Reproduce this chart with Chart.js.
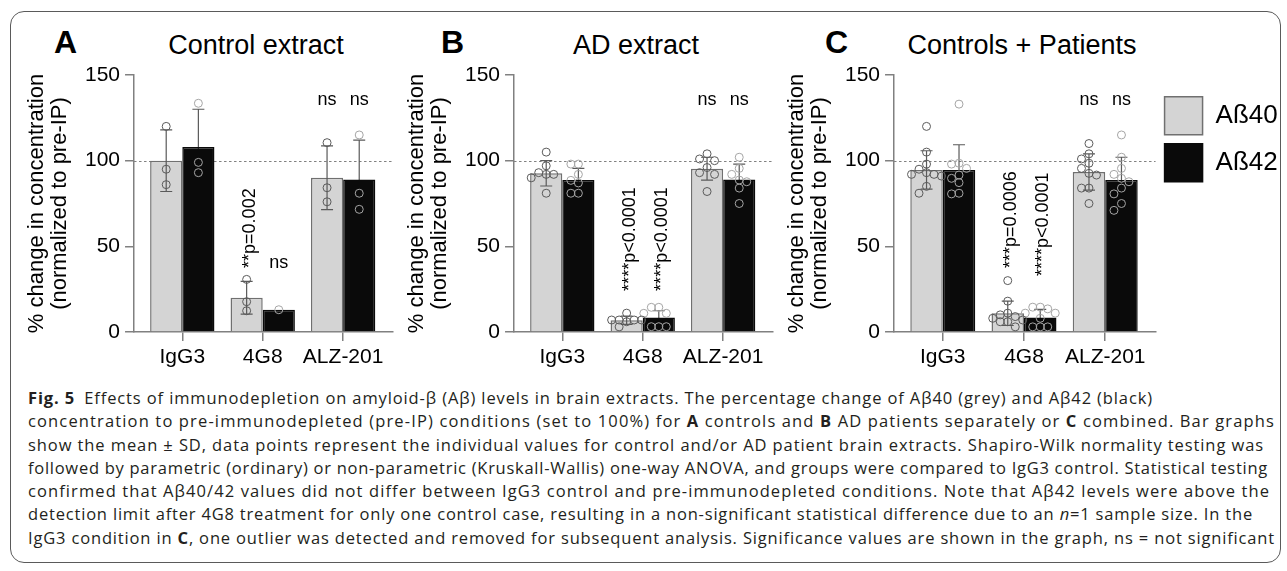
<!DOCTYPE html>
<html>
<head>
<meta charset="utf-8">
<script src="https://cdn.jsdelivr.net/npm/chart.js@4.4.1/dist/chart.umd.min.js"></script>
<style>
html,body{margin:0;padding:0;background:#fff;}
body{width:1287px;height:571px;position:relative;overflow:hidden;font-family:"Liberation Sans",Arial,sans-serif;color:#000;}
.frame{position:absolute;left:10px;top:11px;width:1271px;height:552px;border:1.5px solid #5a5a5a;border-radius:14px;box-sizing:border-box;}
canvas{position:absolute;}
.letter{position:absolute;font-weight:bold;font-size:32px;line-height:32px;white-space:nowrap;}
.ptitle{position:absolute;font-size:27px;line-height:27px;width:400px;text-align:center;white-space:nowrap;}
.caption{position:absolute;left:28px;top:386px;font-family:"Open Sans","Noto Sans",sans-serif;font-size:16.5px;line-height:23.3px;color:#231f20;}
.caption div{white-space:nowrap;}
</style>
</head>
<body>
<div class="frame"></div>

<div class="letter" style="left:54px;top:26px;">A</div>
<div class="ptitle" style="left:56px;top:32px;">Control extract</div>
<div class="letter" style="left:441px;top:26px;">B</div>
<div class="ptitle" style="left:436px;top:32px;">AD extract</div>
<div class="letter" style="left:825px;top:26px;">C</div>
<div class="ptitle" style="left:822px;top:32px;">Controls + Patients</div>

<canvas id="chartA" width="386" height="366" style="left:14px;top:14px;"></canvas>
<canvas id="chartB" width="386" height="366" style="left:394px;top:14px;"></canvas>
<canvas id="chartC" width="505" height="366" style="left:774px;top:14px;"></canvas>

<div class="caption" id="caption">
<div><b>Fig. 5</b>&#8194;Effects of immunodepletion on amyloid-β (Aβ) levels in brain extracts. The percentage change of Aβ40 (grey) and Aβ42 (black)</div>
<div>concentration to pre-immunodepleted (pre-IP) conditions (set to 100%) for <b>A</b> controls and <b>B</b> AD patients separately or <b>C</b> combined. Bar graphs</div>
<div>show the mean ± SD, data points represent the individual values for control and/or AD patient brain extracts. Shapiro-Wilk normality testing was</div>
<div>followed by parametric (ordinary) or non-parametric (Kruskall-Wallis) one-way ANOVA, and groups were compared to IgG3 control. Statistical testing</div>
<div>confirmed that Aβ40/42 values did not differ between IgG3 control and pre-immunodepleted conditions. Note that Aβ42 levels were above the</div>
<div>detection limit after 4G8 treatment for only one control case, resulting in a non-significant statistical difference due to an <i>n</i>=1 sample size. In the</div>
<div>IgG3 condition in <b>C</b>, one outlier was detected and removed for subsequent analysis. Significance values are shown in the graph, ns = not significant</div>
</div>

<script>
// ---------------- DATA ----------------
const categories = ['IgG3', '4G8', 'ALZ-201'];
const seriesNames = ['Aß40', 'Aß42'];
const yTicks = [0, 50, 100, 150];

// Panel A: Control extract
const ctrlMean40 = [100, 20, 90];
const ctrlMean42 = [108, 13, 89];
const ctrlSD40 = [18, 9.6, 18.6];
const ctrlSD42 = [22, 0, 23];
const ctrlPts40 = [[120, 95, 86], [30.7, 17.7, 12.4], [110.5, 84.2, 76]];
const ctrlPts42 = [[133.5, 99, 93], [13], [115, 81, 71.6]];
const ctrlSig40 = ['', '**p=0.002', 'ns'];
const ctrlSig42 = ['', 'ns', 'ns'];

// Panel B: AD extract
const adMean40 = [92.6, 6.9, 95.3];
const adMean42 = [88.7, 8.4, 89];
const adSD40 = [7.4, 2.4, 6.7];
const adSD42 = [6.8, 4, 9];
const adPts40 = [[105, 97, 93, 92, 92, 90, 81], [11, 7, 7, 7, 7, 6, 3], [104, 101, 100, 96, 93, 92, 82]];
const adPts42 = [[98, 98, 92, 88.5, 87, 81, 81], [14.4, 14.4, 10.9, 10.9, 3.1, 3.1, 3.1], [102, 95.5, 92, 88.7, 87.7, 84, 75]];
const adSig40 = ['', '****p<0.0001', 'ns'];
const adSig42 = ['', '****p<0.0001', 'ns'];

// Panel C: Controls + Patients
const allMean40 = [94.6, 10.9, 93.4];
const allMean42 = [94.6, 8.4, 88.7];
const allSD40 = [11.2, 7.1, 10.6];
const allSD42 = [14.7, 4.8, 13.3];
const allPts40 = [[120, 105, 98, 95, 93, 92, 92, 91, 85, 81], [30, 18, 11, 10, 9, 8, 7, 6, 6, 3], [110, 104, 101, 98.5, 95.5, 92.6, 91.6, 84, 84, 75]];
const allPts42 = [[133, 98.5, 98, 95.5, 91.6, 89.7, 87.2, 81, 80.6], [14.5, 14.5, 13.5, 11, 11, 8, 3, 3, 3], [115, 102, 95.5, 92, 89.7, 87.7, 84, 80.6, 75, 71]];
const allSig40 = ['', '***p=0.0006', 'ns'];
const allSig42 = ['', '****p<0.0001', 'ns'];

// ---------------- STYLE / HELPERS ----------------
const FONT = '"Liberation Sans", Arial, sans-serif';
Chart.defaults.font.family = FONT;
Chart.defaults.color = '#000';
const CAT_PCT = 0.8;
const GREY = '#d4d4d4', GREY_EDGE = '#707070', BLACK = '#0a0a0a';

function drawErrors(chart, di, sds) {
  const meta = chart.getDatasetMeta(di);
  const ys = chart.scales.y, ctx = chart.ctx;
  ctx.save();
  ctx.strokeStyle = '#5a5a5a';
  ctx.lineWidth = 1.2;
  meta.data.forEach((bar, i) => {
    const s = sds[i];
    if (!s) return;
    const m = chart.data.datasets[di].data[i].y;
    const yt = ys.getPixelForValue(m + s), yb = ys.getPixelForValue(m - s);
    ctx.beginPath();
    ctx.moveTo(bar.x, yt); ctx.lineTo(bar.x, yb);
    ctx.moveTo(bar.x - 6, yt); ctx.lineTo(bar.x + 6, yt);
    ctx.moveTo(bar.x - 6, yb); ctx.lineTo(bar.x + 6, yb);
    ctx.stroke();
  });
  ctx.restore();
}

const errorBarPlugin = {
  id: 'errorBars',
  beforeDatasetDraw(chart, args, opts) {
    if (args.index === 1) drawErrors(chart, 1, opts.sd[1]);
  },
  afterDatasetDraw(chart, args, opts) {
    if (args.index === 0) drawErrors(chart, 0, opts.sd[0]);
  }
};

const refLinePlugin = {
  id: 'refLine',
  beforeDatasetsDraw(chart, args, opts) {
    const {ctx, chartArea} = chart;
    const py = Math.round(chart.scales.y.getPixelForValue(opts.value)) + 0.5;
    ctx.save();
    ctx.strokeStyle = '#808080';
    ctx.lineWidth = 1;
    ctx.setLineDash([2.5, 2.5]);
    ctx.beginPath();
    ctx.moveTo(chartArea.left, py);
    ctx.lineTo(chartArea.right, py);
    ctx.stroke();
    ctx.restore();
  }
};

const sigPlugin = {
  id: 'sigLabels',
  afterDatasetsDraw(chart, args, opts) {
    const ctx = chart.ctx, ys = chart.scales.y;
    ctx.save();
    ctx.fillStyle = '#000';
    ctx.font = opts.size + 'px ' + FONT;
    [0, 1].forEach(di => {
      const meta = chart.getDatasetMeta(di);
      opts.text[di].forEach((t, i) => {
        if (!t) return;
        const bx = meta.data[i].x;
        const py = ys.getPixelForValue(opts.at[di][i]);
        if (t === 'ns') {
          ctx.textAlign = 'center';
          ctx.textBaseline = 'middle';
          ctx.fillText(t, bx, py);
        } else {
          ctx.save();
          ctx.translate(bx + 3, py);
          ctx.rotate(-Math.PI / 2);
          ctx.textAlign = 'left';
          ctx.textBaseline = 'middle';
          ctx.fillText(t, 0, 0);
          ctx.restore();
        }
      });
    });
    ctx.restore();
  }
};

// simple beeswarm in pixel space, using the chart's own scales
function applySwarm(chart) {
  const xs = chart.scales.x, ys = chart.scales.y;
  const step = 7.5, D = 7.5, cands = [0, -1, 1, -2, 2];
  [2, 3].forEach(di => {
    const ds = chart.data.datasets[di];
    const groups = {};
    ds.data.forEach(p => { (groups[p.g] = groups[p.g] || []).push(p); });
    Object.values(groups).forEach(pts => {
      const placed = [];
      pts.forEach(p => {
        const cx = xs.getPixelForValue(p.c);
        const py = ys.getPixelForValue(p.y);
        let best = 0, bestD = -1;
        for (const c of cands) {
          const dx = c * step;
          let md = Infinity;
          placed.forEach(q => { md = Math.min(md, Math.hypot(dx - q.dx, py - q.py)); });
          if (md >= D) { best = dx; break; }
          if (md > bestD) { bestD = md; best = dx; }
        }
        placed.push({dx: best, py});
        p.x = xs.getValueForPixel(cx + best);
      });
    });
  });
  chart.update('none');
}

function makePanel(id, means, sds, pts, sigs, sigAt, withLegend) {
  const offs = [-CAT_PCT / 4, CAT_PCT / 4];
  const barSets = [0, 1].map(s => ({
    type: 'bar',
    label: seriesNames[s],
    data: means[s].map((v, i) => ({x: i, y: v})),
    backgroundColor: s === 0 ? GREY : BLACK,
    borderColor: s === 0 ? GREY_EDGE : BLACK,
    borderWidth: 1.5,
    categoryPercentage: CAT_PCT,
    barPercentage: 1,
    order: 1
  }));
  const ptSets = [0, 1].map(s => ({
    type: 'line',
    label: seriesNames[s] + ' points',
    data: pts[s].flatMap((arr, i) => arr.map(v => ({x: i + offs[s], y: v, c: i + offs[s], g: i}))),
    showLine: false,
    pointRadius: 4,
    pointHoverRadius: 4,
    pointBorderWidth: 1,
    pointBackgroundColor: 'rgba(0,0,0,0)',
    pointBorderColor: s === 0 ? '#5a5a5a' : '#a5a5a5',
    order: 0
  }));
  const chart = new Chart(document.getElementById(id), {
    data: {datasets: [...barSets, ...ptSets]},
    options: {
      responsive: false,
      devicePixelRatio: 1,
      animation: false,
      events: [],
      layout: {padding: {left: 11.3, right: withLegend ? 0 : 7, top: 61, bottom: 5.8}},
      scales: {
        x: {
          type: 'linear',
          offset: false,
          min: -0.6,
          max: 2.62,
          afterBuildTicks: sc => { sc.ticks = categories.map((c, i) => ({value: i})); },
          afterFit: sc => { sc.paddingLeft = 0; sc.paddingRight = 0; },
          ticks: {
            callback: v => categories[v],
            font: {size: 21},
            padding: 4,
            maxRotation: 0,
            autoSkip: false
          },
          grid: {offset: false, drawOnChartArea: false, drawTicks: true, tickLength: 9, color: '#808080', lineWidth: 1.5},
          border: {display: true, color: '#808080', width: 1.5}
        },
        y: {
          min: 0,
          max: 150,
          afterBuildTicks: sc => { sc.ticks = yTicks.map(v => ({value: v})); },
          afterFit: sc => { sc.paddingTop = 0; sc.paddingBottom = 0; },
          ticks: {font: {size: 21}, padding: 5},
          grid: {drawOnChartArea: false, drawTicks: true, tickLength: 9, color: '#808080', lineWidth: 1.5},
          border: {display: true, color: '#808080', width: 1.5},
          title: {
            display: true,
            text: ['% change in concentration', '(normalized to pre-IP)'],
            font: {size: 22, lineHeight: 1.05},
            padding: {top: 0, bottom: 8.5},
            color: '#000'
          }
        }
      },
      plugins: {
        legend: withLegend ? {
          display: true,
          position: 'right',
          align: 'start',
          title: {display: true, text: ' ', font: {size: 10}, padding: {top: 0, bottom: 0.7}},
          labels: {
            boxWidth: 38, boxHeight: 38, padding: 9,
            font: {size: 26}, color: '#000',
            filter: item => item.datasetIndex < 2
          }
        } : {display: false},
        tooltip: {enabled: false},
        errorBars: {sd: sds},
        refLine: {value: 100},
        sigLabels: {text: sigs, at: sigAt, size: 18}
      }
    },
    plugins: [refLinePlugin, errorBarPlugin, sigPlugin]
  });
  applySwarm(chart);
  return chart;
}

makePanel('chartA', [ctrlMean40, ctrlMean42], [ctrlSD40, ctrlSD42], [ctrlPts40, ctrlPts42],
  [ctrlSig40, ctrlSig42], [[null, 37.4, 135.4], [null, 40, 135.4]], false);
makePanel('chartB', [adMean40, adMean42], [adSD40, adSD42], [adPts40, adPts42],
  [adSig40, adSig42], [[null, 24, 135.4], [null, 24, 135.4]], false);
makePanel('chartC', [allMean40, allMean42], [allSD40, allSD42], [allPts40, allPts42],
  [allSig40, allSig42], [[null, 37.4, 135.4], [null, 32.7, 135.4]], true);

// caption: fit each line's letter spacing to the reference line ends
const lineEnds = [1153, 1275, 1264, 1268, 1270, 1253, 1275];
document.querySelectorAll('#caption > div').forEach((el, k) => {
  el.style.display = 'inline-block';
  const w = el.getBoundingClientRect().width;
  const n = el.textContent.trim().length;
  const target = lineEnds[k] - 28;
  el.style.letterSpacing = ((target - w) / n) + 'px';
  el.style.display = 'block';
});
</script>
</body>
</html>
